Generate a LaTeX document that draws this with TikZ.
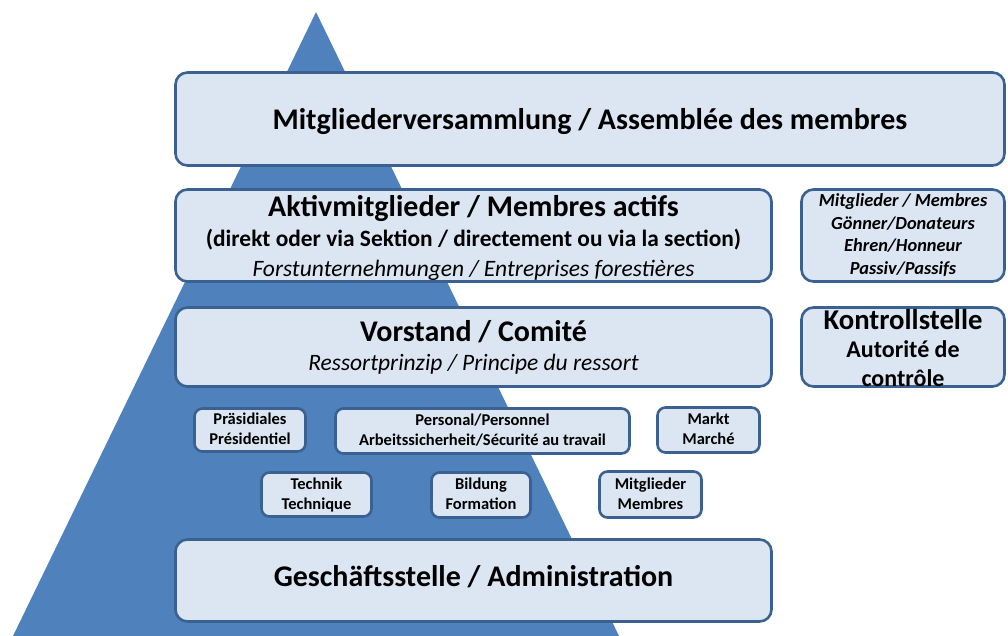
\documentclass[tikz,border=0pt]{standalone}
\usepackage{fontspec}
\setmainfont{Carlito}
\definecolor{tri}{HTML}{4F81BD}
\definecolor{boxfill}{HTML}{DCE6F2}
\definecolor{boxline}{HTML}{3A6190}
\newcommand{\fs}[2]{\fontsize{#1}{#2}\selectfont}

\begin{document}
\begin{tikzpicture}[x=1pt,y=-1pt,
  box/.style={draw=boxline,fill=boxfill,line width=2.6pt,rounded corners=12pt,
    align=center,inner sep=0pt,text depth=0pt},
  sbox/.style={box,rounded corners=8pt,text height=29pt,font=\bfseries\fs{16.5}{20}}]
  \useasboundingbox (0,0) rectangle (1008,636);
  % pyramid
  \fill[tri] (316,12) -- (13,636) -- (619,636) -- cycle;
  % main levels
  \node[box,minimum width=829,minimum height=93,text height=22pt,font=\bfseries\fs{30}{30}] (mv) at (590,119)
    {Mitgliederversammlung / Assemblée des membres};
  \node[box,minimum width=596,minimum height=92,text height=81pt,font=\bfseries\fs{30}{29.5}] (akt) at (473.5,235.5)
    {Aktivmitglieder / Membres actifs\\
     \fs{23.4}{29.5}(direkt oder via Sektion / directement ou via la section)\\
     \mdseries\itshape\fs{23.5}{29.5}Forstunternehmungen / Entreprises forestières};
  \node[box,minimum width=203,minimum height=92,text height=77pt,font=\bfseries\itshape\fs{18.4}{22.5}] (pas) at (903,235.5)
    {Mitglieder / Membres\\Gönner/Donateurs\\Ehren/Honneur\\Passiv/Passifs};
  \node[box,minimum width=596,minimum height=79,text height=46pt,font=\bfseries\fs{30}{29}] (vor) at (473.5,347)
    {Vorstand / Comité\\
     \mdseries\itshape\fs{23.5}{29}Ressortprinzip / Principe du ressort};
  \node[box,minimum width=203,minimum height=79,text height=78pt,font=\bfseries\fs{28.7}{28.5}] (kon) at (903,347)
    {Kontrollstelle\\ \fs{24}{28.5}Autorité de\\ \fs{24}{28.5}contrôle};
  % ressorts
  \node[sbox,minimum width=111,minimum height=43] (pra) at (250,430) {Präsidiales\\Présidentiel};
  \node[sbox,minimum width=294,minimum height=45] (per) at (482.5,431)
    {Personal/Personnel\\Arbeitssicherheit/Sécurité au travail};
  \node[sbox,minimum width=102,minimum height=45] (mar) at (708.5,430) {Markt\\Marché};
  \node[sbox,minimum width=110,minimum height=44] (tec) at (316.5,494.5) {Technik\\Technique};
  \node[sbox,minimum width=99,minimum height=45] (bil) at (481,495) {Bildung\\Formation};
  \node[sbox,minimum width=102,minimum height=46] (mit) at (650.5,494.5) {Mitglieder\\Membres};
  % base
  \node[box,minimum width=596,minimum height=82,text height=11pt,font=\bfseries\fs{30}{30}] (ges) at (473.5,580.5)
    {Geschäftsstelle / Administration};
\end{tikzpicture}
\end{document}
